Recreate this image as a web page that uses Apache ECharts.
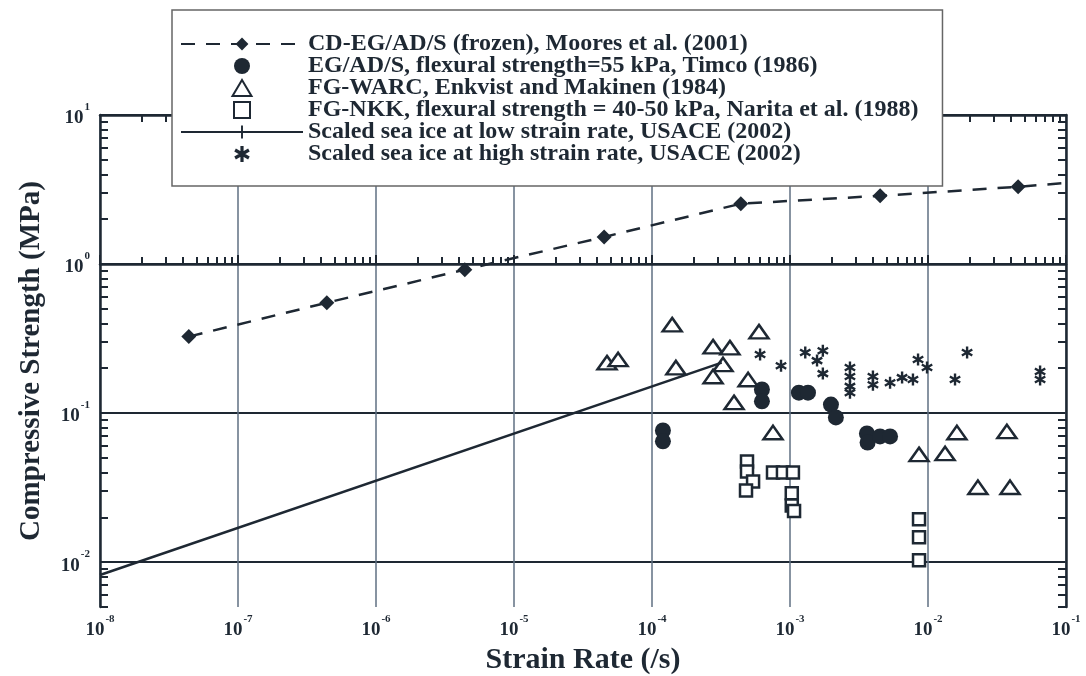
<!DOCTYPE html>
<html>
<head>
<meta charset="UTF-8">
<title>Compressive strength vs strain rate</title>
<script src="https://cdn.jsdelivr.net/npm/echarts@6/dist/echarts.min.js"></script>
</head>
<body style="margin:0">
<div id="main" style="width:1086px;height:676px;"></div>
<script>
// values (strain rate in /s, strength in MPa)
var mooresRate = [4.4e-8, 4.4e-7, 4.4e-6, 4.5e-5, 4.4e-4, 4.5e-3, 4.5e-2];
var mooresStrength = [0.326, 0.55, 0.917, 1.52, 2.54, 2.87, 3.3];
var mooresLineEnd = [0.1, 3.5];

var timcoRate = [1.2e-4, 1.2e-4, 6.26e-4, 6.26e-4, 1.16e-3, 1.35e-3, 1.98e-3, 2.15e-3, 3.61e-3, 3.65e-3, 4.49e-3, 5.31e-3];
var timcoStrength = [0.0764, 0.0646, 0.144, 0.120, 0.137, 0.137, 0.114, 0.0935, 0.073, 0.0635, 0.0697, 0.0697];

var enkvistRate = [4.72e-5, 5.68e-5, 1.40e-4, 1.49e-4, 2.77e-4, 3.67e-4, 3.27e-4, 2.77e-4, 4.97e-4, 3.93e-4, 5.96e-4, 7.53e-4,
                   8.61e-3, 1.33e-2, 1.62e-2, 3.73e-2, 2.30e-2, 3.93e-2];
var enkvistStrength = [0.218, 0.229, 0.392, 0.202, 0.279, 0.275, 0.212, 0.176, 0.168, 0.118, 0.352, 0.0741,
                       0.0528, 0.0536, 0.0741, 0.0753, 0.0318, 0.0318];

var naritaRate = [4.88e-4, 4.88e-4, 5.40e-4, 4.80e-4, 7.53e-4, 8.89e-4, 1.05e-3, 1.03e-3, 1.03e-3, 1.07e-3, 8.61e-3, 8.61e-3, 8.61e-3];
var naritaStrength = [0.0474, 0.0406, 0.0348, 0.0303, 0.040, 0.040, 0.040, 0.029, 0.024, 0.022, 0.0194, 0.0147, 0.0103];

var usaceLowRate = [1e-8, 3.2e-4];
var usaceLowStrength = [0.0082, 0.218];

var usaceHighRate = [6.07e-4, 8.61e-4, 1.29e-3, 1.57e-3, 1.73e-3, 1.73e-3, 2.72e-3, 2.72e-3, 2.72e-3, 2.72e-3, 3.99e-3, 3.99e-3,
                     5.31e-3, 6.49e-3, 7.78e-3, 8.47e-3, 9.84e-3, 1.57e-2, 1.92e-2, 6.49e-2, 6.49e-2];
var usaceHighStrength = [0.247, 0.208, 0.255, 0.225, 0.262, 0.184, 0.202, 0.176, 0.151, 0.137, 0.176, 0.155,
                         0.160, 0.173, 0.168, 0.229, 0.202, 0.168, 0.255, 0.190, 0.168];

var seriesNames = [
    'CD-EG/AD/S (frozen), Moores et al. (2001)',
    'EG/AD/S, flexural strength=55 kPa, Timco (1986)',
    'FG-WARC, Enkvist and Makinen (1984)',
    'FG-NKK, flexural strength = 40-50 kPa, Narita et al. (1988)',
    'Scaled sea ice at low strain rate, USACE (2002)',
    'Scaled sea ice at high strain rate, USACE (2002)'
];

// decade exponents used for the tick marks / labels
var xMajorExp = [-8, -7, -6, -5, -4, -3, -2, -1];
var yMajorExp = [-2, -1, 0, 1];
var yMin = 0.005, yMax = 10, xMin = 1e-8, xMax = 0.1;

function minorExp(lo, hi) {
    var out = [];
    for (var e = Math.floor(lo); e < hi; e++) {
        for (var k = 2; k <= 9; k++) {
            var v = e + Math.log10(k);
            if (v >= lo - 1e-9 && v <= hi) out.push(v);
        }
    }
    return out;
}
var xMinorExp = minorExp(Math.log10(xMin), Math.log10(xMax));
var yMinorExp = minorExp(Math.log10(yMin), Math.log10(yMax));

function zip(a, b) {
    return a.map(function (v, i) { return [v, b[i]]; });
}

var ink = '#1e2833';
var serif = '"Liberation Serif", "Times New Roman", serif';
// path symbols so the legend keeps their proportions
var starSym = 'path://M-1,-5 L1,-5 L1,5 L-1,5 Z M-4.83,-1.634 L-3.83,-3.366 L4.83,1.634 L3.83,3.366 Z M3.83,-3.366 L4.83,-1.634 L-3.83,3.366 L-4.83,1.634 Z';
var triSym = 'path://M9.5,0 L19,16 L0,16 Z';
var sqSym = 'path://M0,0 L10,0 L10,10 L0,10 Z';
var barSym = 'path://M-4,-4 M4,4 M-0.6,-4 L0.6,-4 L0.6,4 L-0.6,4 Z';

var powRich = {
    b: {fontFamily: serif, fontWeight: 'bold', fontSize: 19, color: ink, lineHeight: 26, verticalAlign: 'bottom'},
    s: {fontFamily: serif, fontWeight: 'bold', fontSize: 11, color: ink, verticalAlign: 'top', padding: [0, 0, 0, 1]}
};
function powLabel(v) {
    return '{b|10}{s|' + Math.round(v) + '}';
}
var tickStyle = {color: ink, width: 2};
var frameLine = {show: true, lineStyle: {color: ink, width: 2.5}};

var mooresData = zip(mooresRate, mooresStrength);
mooresData.push({value: mooresLineEnd, symbol: 'none'});

var chart = echarts.init(document.getElementById('main'));
var option = {
    animation: false,
    backgroundColor: '#fff',
    grid: {left: 100, right: 20, top: 115, bottom: 69, outerBoundsMode: 'none'},
    legend: {
        left: 172, top: 10, orient: 'vertical',
        padding: [22, 24, 20, 8],
        backgroundColor: '#fff', borderColor: '#666', borderWidth: 1.5,
        itemWidth: 122, itemHeight: 16, itemGap: -2,
        symbolKeepAspect: true,
        textStyle: {fontFamily: serif, fontWeight: 'bold', fontSize: 24, color: ink},
        data: seriesNames
    },
    xAxis: [
        {type: 'log', logBase: 10, min: xMin, max: xMax, show: false},
        {
            type: 'value', position: 'bottom', min: -8, max: -1,
            axisLine: frameLine,
            axisTick: {show: true, inside: true, length: 9, customValues: xMajorExp, lineStyle: tickStyle},
            axisLabel: {customValues: xMajorExp, formatter: powLabel, rich: powRich, margin: 7},
            splitLine: {show: true, lineStyle: {color: '#5f6f82', width: 1.5}},
            name: 'Strain Rate (/s)', nameLocation: 'middle', nameGap: 32,
            nameTextStyle: {fontFamily: serif, fontWeight: 'bold', fontSize: 30, color: ink}
        },
        {
            type: 'value', position: 'bottom', min: -8, max: -1,
            axisLine: {show: false},
            axisTick: {show: true, inside: true, length: 7, customValues: xMinorExp, lineStyle: tickStyle},
            axisLabel: {show: false}, splitLine: {show: false}
        },
        {
            type: 'value', position: 'top', min: -8, max: -1,
            axisLine: frameLine,
            axisTick: {show: true, inside: true, length: 7, customValues: xMinorExp, lineStyle: tickStyle},
            axisLabel: {show: false}, splitLine: {show: false}
        }
    ],
    yAxis: [
        {type: 'log', logBase: 10, min: yMin, max: yMax, show: false},
        {
            type: 'value', position: 'left', min: Math.log10(yMin), max: 1,
            axisLine: frameLine,
            axisTick: {show: true, inside: true, length: 9, customValues: yMajorExp, lineStyle: tickStyle},
            axisLabel: {customValues: yMajorExp, formatter: powLabel, rich: powRich, margin: 10},
            splitLine: {show: true, lineStyle: {color: ink, width: 2}},
            name: 'Compressive Strength (MPa)', nameLocation: 'middle', nameGap: 54,
            nameTextStyle: {fontFamily: serif, fontWeight: 'bold', fontSize: 29, color: ink}
        },
        {
            type: 'value', position: 'left', min: Math.log10(yMin), max: 1,
            axisLine: {show: false},
            axisTick: {show: true, inside: true, length: 8, customValues: yMinorExp, lineStyle: tickStyle},
            axisLabel: {show: false}, splitLine: {show: false}
        },
        {
            type: 'value', position: 'right', min: Math.log10(yMin), max: 1,
            axisLine: frameLine,
            axisTick: {show: true, inside: true, length: 8, customValues: yMinorExp, lineStyle: tickStyle},
            axisLabel: {show: false}, splitLine: {show: false}
        }
    ],
    series: [
        {
            name: seriesNames[0], type: 'line', data: mooresData,
            symbol: 'diamond', symbolSize: 15, showSymbol: true,
            itemStyle: {color: ink},
            lineStyle: {color: ink, width: 2.5, type: [14, 11]}
        },
        {
            name: seriesNames[1], type: 'scatter', data: zip(timcoRate, timcoStrength),
            symbol: 'circle', symbolSize: 16,
            itemStyle: {color: ink, opacity: 1}
        },
        {
            name: seriesNames[2], type: 'scatter', data: zip(enkvistRate, enkvistStrength),
            symbol: triSym, symbolSize: [19, 16], symbolKeepAspect: true,
            itemStyle: {color: '#fff', borderColor: ink, borderWidth: 2.5, opacity: 1}
        },
        {
            name: seriesNames[3], type: 'scatter', data: zip(naritaRate, naritaStrength),
            symbol: sqSym, symbolSize: 12, symbolKeepAspect: true,
            itemStyle: {color: '#fff', borderColor: ink, borderWidth: 2.5, opacity: 1}
        },
        {
            name: seriesNames[4], type: 'line', data: zip(usaceLowRate, usaceLowStrength),
            symbol: barSym, symbolSize: 10, showSymbol: false, symbolKeepAspect: true,
            itemStyle: {color: ink},
            lineStyle: {color: ink, width: 2.5}
        },
        {
            name: seriesNames[5], type: 'scatter', data: zip(usaceHighRate, usaceHighStrength),
            symbol: starSym, symbolSize: 12, symbolKeepAspect: true,
            itemStyle: {color: ink, opacity: 1}
        }
    ]
};
chart.setOption(option);
</script>
</body>
</html>
